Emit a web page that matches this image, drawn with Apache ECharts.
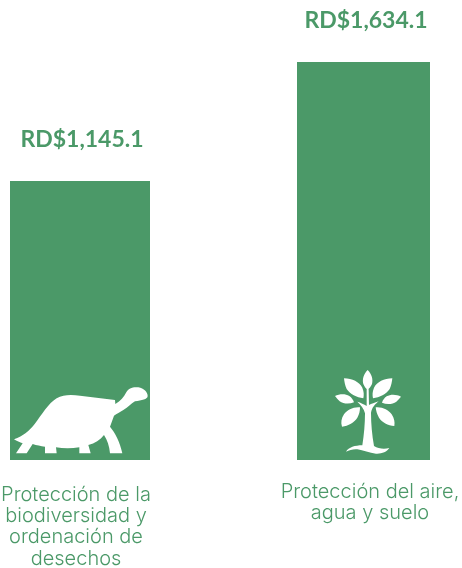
<!DOCTYPE html>
<html>
<head>
<meta charset="utf-8">
<style>html,body{margin:0;padding:0;background:#fff}#c{width:462px;height:568px}</style>
<script src="https://cdn.jsdelivr.net/npm/echarts@6/dist/echarts.min.js"></script>
</head>
<body>
<div id="c"></div>
<script>
const categories = ['Protección de la\nbiodiversidad y\nordenación de\ndesechos', 'Protección del aire,\nagua y suelo'];
const values = [1145.1, 1634.1];
const valueLabels = ['RD$1,145.1', 'RD$1,634.1'];

const GREEN = '#4B9968';
const FONT = 'Lato';
const CAT_FONT = 'Inter';
const yMax = 1634.1;

const turtle = 'M42 238 C70 228 88 212 104 192 C125 165 145 130 170 115 C190 103 215 104 240 107 L345 120 L346 132 C362 122 372 110 378 98 C385 84 400 80 415 82 C432 85 443 97 443 108 C443 118 425 121 405 124 C392 132 385 142 370 150 C360 156 350 162 342 167 L330 200 C345 218 360 245 367 280 L330 280 C328 258 322 240 312 225 C300 240 285 250 265 255 L272 280 L238 280 L238 262 C215 266 190 266 168 262 L170 280 L135 280 L135 260 C122 258 110 256 98 252 L80 280 L48 280 L68 250 C60 247 50 243 42 238 Z';
const tree = [
 'M293 30 C305 42 310 58 306 72 C303 80 297 86 293 90 C288 86 283 80 280 72 C276 58 281 42 293 30 Z',
 'M222 55 C247 55 268 66 277 83 C282 95 282 105 280 115 C260 112 240 102 230 87 C225 77 223 65 222 55 Z',
 'M367 55 C342 55 321 66 312 83 C307 95 307 105 309 115 C329 112 349 102 359 87 C364 77 366 65 367 55 Z',
 'M195 108 C208 102 226 101 238 108 C245 113 250 120 252 127 C238 133 220 132 209 124 C204 119 199 113 195 108 Z',
 'M393 110 C380 103 362 102 350 109 C343 114 338 121 336 128 C350 134 368 133 379 125 C384 120 389 115 393 110 Z',
 'M270 142 C250 140 232 149 222 163 C214 175 212 188 216 200 C235 198 253 187 262 173 C268 163 270 152 270 142 Z',
 'M317 142 C337 140 355 149 365 163 C373 175 375 187 373 198 C354 197 336 187 327 173 C321 163 318 152 317 142 Z',
 'M290 88 L296 88 L297 135 C304 132 314 128 326 124 C316 132 306 142 303 158 C303 190 306 225 312 258 C325 266 342 268 358 264 C350 276 335 282 318 281 C298 280 280 270 262 268 C250 267 238 270 228 275 C236 262 255 256 277 256 C282 225 285 190 285 160 C282 146 272 134 262 125 C272 128 282 133 290 138 Z'
].join(' ');

echarts.graphic.registerShape('turtleIcon', echarts.graphic.extendPath(turtle, {}));
echarts.graphic.registerShape('treeIcon', echarts.graphic.extendPath(tree, {}));

const chart = echarts.init(document.getElementById('c'), null, {renderer: 'canvas'});

const grids = [
  {left: 10, width: 140, top: 62, height: 398, outerBoundsMode: 'none'},
  {left: 297, width: 133, top: 62, height: 398, outerBoundsMode: 'none'}
];
const labelShift = [2, 2.5];
const axisPad = [[0, 8, 0, 0], [0, 0, 0, 13]];
const axisMargin = [24, 21];

chart.setOption({
  animation: false,
  backgroundColor: '#fff',
  grid: grids,
  xAxis: categories.map((c, i) => ({
    type: 'category',
    gridIndex: i,
    data: [c],
    axisLine: {show: false},
    axisTick: {show: false},
    axisLabel: {
      interval: 0,
      color: GREEN,
      fontFamily: CAT_FONT,
      fontWeight: 300,
      fontSize: 20,
      lineHeight: 21.3,
      margin: axisMargin[i],
      padding: axisPad[i],
      hideOverlap: false
    }
  })),
  yAxis: categories.map((c, i) => ({
    type: 'value',
    gridIndex: i,
    min: 0,
    max: yMax,
    show: false
  })),
  series: categories.map((c, i) => ({
    type: 'bar',
    xAxisIndex: i,
    yAxisIndex: i,
    data: [values[i]],
    barWidth: '100%',
    itemStyle: {color: GREEN},
    silent: true,
    label: {
      show: true,
      position: 'top',
      distance: 30,
      offset: [labelShift[i], 0],
      formatter: () => valueLabels[i],
      color: GREEN,
      fontFamily: FONT,
      fontWeight: 'bold',
      fontSize: 23
    }
  })),
  graphic: [
    {type: 'turtleIcon', silent: true, z: 100, x: 0, y: 360, scaleX: 1/3, scaleY: 1/3, style: {fill: '#fff'}},
    {type: 'treeIcon', silent: true, z: 100, x: 270, y: 360, scaleX: 1/3, scaleY: 1/3, style: {fill: '#fff'}}
  ]
});
</script>
</body>
</html>
